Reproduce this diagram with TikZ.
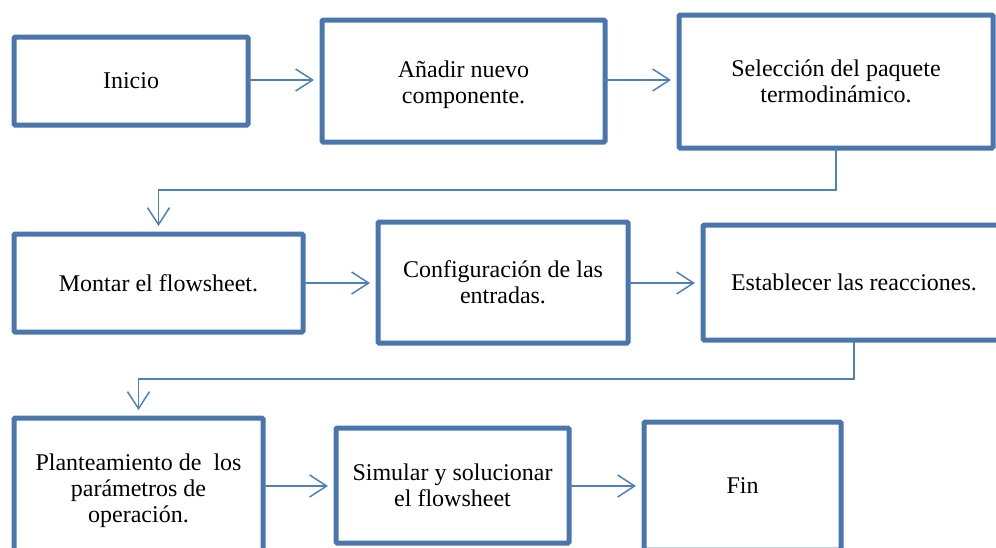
\documentclass[tikz,border=0pt]{standalone}
\usepackage{fontspec}
\setmainfont{Liberation Serif}
\usetikzlibrary{arrows.meta}
\definecolor{boxblue}{RGB}{74,117,173}
\definecolor{arrblue}{RGB}{78,128,189}
\tikzset{
  stepbox/.style={draw=boxblue, line width=2.5pt, fill=white, inner sep=0pt, outer sep=0pt,
    align=center, font=\fontsize{12}{13}\selectfont, rounded corners=0.6pt},
  flow/.style={draw=arrblue, line width=0.75pt, -{Straight Barb[length=8.5pt,width=11pt,line width=0.75pt]},
    shorten >=4pt}
}
\begin{document}
\begin{tikzpicture}[x=0.5pt,y=-0.5pt]
\useasboundingbox (0,0) rectangle (996,547);
\clip (0,0) rectangle (996,547);
\node[stepbox, minimum width=117pt, minimum height=44pt] (b1) at (131,81) {Inicio};
\node[stepbox, minimum width=141.5pt, minimum height=61pt] (b2) at (463.5,81) {\rule{0pt}{12pt}Añadir nuevo\\componente.};
\node[stepbox, minimum width=157pt, minimum height=66.5pt] (b3) at (836,81.5) {Selección del paquete\\termodinámico.};
\node[stepbox, minimum width=144.5pt, minimum height=49pt] (b4) at (158.5,283) {Montar el flowsheet.};
\node[stepbox, minimum width=125pt, minimum height=60.5pt] (b5) at (503,282.5) {Configuración de las\\entradas.};
\node[stepbox, minimum width=151pt, minimum height=57.5pt] (b6) at (854,282.5) {Establecer las reacciones.};
\node[stepbox, minimum width=124.5pt, minimum height=68pt] (b7) at (138.5,486) {\rule{0pt}{13pt}Planteamiento de\ \ los\\parámetros de\\operación.};
\node[stepbox, minimum width=116.5pt, minimum height=57.5pt] (b8) at (452.5,485.5) {Simular y solucionar\\el flowsheet};
\node[stepbox, minimum width=98.5pt, minimum height=64pt] (b9) at (742.5,486) {Fin};
\draw[flow] (b1.east |- 0,80) -- (b2.west |- 0,80);
\draw[flow] (b2.east |- 0,80) -- (b3.west |- 0,80);
\draw[flow] (b3.south) -- (b3.south |- 0,190) -| (b4.north);
\draw[flow] (b4.east |- 0,283) -- (b5.west |- 0,283);
\draw[flow] (b5.east |- 0,283) -- (b6.west |- 0,283);
\draw[flow] (b6.south) -- (b6.south |- 0,379) -| (b7.north);
\draw[flow] (b7.east |- 0,486) -- (b8.west |- 0,486);
\draw[flow] (b8.east |- 0,486) -- (b9.west |- 0,486);
\end{tikzpicture}
\end{document}
